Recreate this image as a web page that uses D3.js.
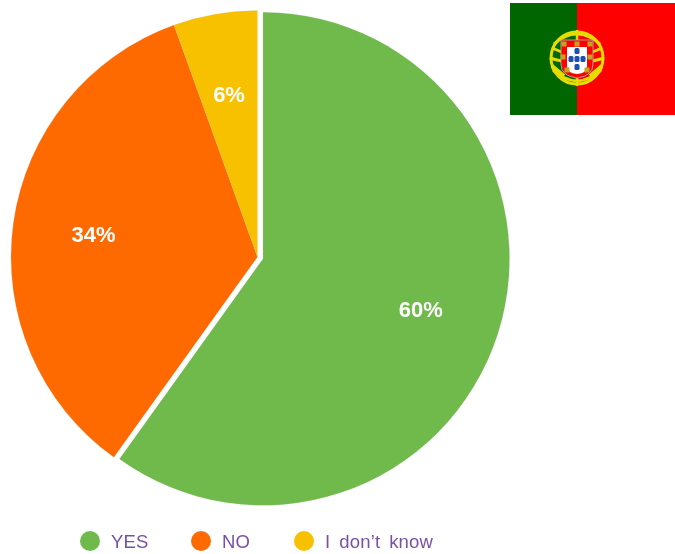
<!DOCTYPE html>
<html>
<head>
<meta charset="utf-8">
<script src="https://cdn.jsdelivr.net/npm/d3@7/dist/d3.min.js"></script>
<style>
  html, body { margin: 0; padding: 0; background: #fff; }
  svg { display: block; }
  text { font-family: "Liberation Sans", Arial, sans-serif; }
</style>
</head>
<body>
<svg id="chart" width="675" height="554"></svg>
<script>
const categories = ["YES", "NO", "I don’t know"];
const values = [59.9, 34.6, 5.5];
const labels = ["60%", "34%", "6%"];
const colors = ["#6fba4a", "#ff6a00", "#f7c100"];

const legendX = [90, 201, 304];

const width = 675, height = 554;
const cx = 257.5, cy = 257, radius = 246.5;
const explode = 5.8; // the green slice sits a bit out of the pie

const svg = d3.select("#chart");

const defs = svg.append("defs");
defs.append("filter").attr("id", "soft")
  .append("feGaussianBlur").attr("stdDeviation", 0.5);
defs.append("filter").attr("id", "softer")
  .append("feGaussianBlur").attr("stdDeviation", 0.4);

//###################### PIE ######################

const pie = d3.pie().sort(null).value(d => d);
const arc = d3.arc().innerRadius(0).outerRadius(radius);
const labelArc = d3.arc().innerRadius(radius * 0.672).outerRadius(radius * 0.672);

const arcs = pie(values);

const slices = svg.append("g").attr("transform", `translate(${cx},${cy})`);

slices.selectAll("path")
  .data(arcs)
  .join("path")
  .attr("d", arc)
  .attr("fill", (d, i) => colors[i])
  .attr("stroke", "#bdbdbd")
  .attr("stroke-opacity", 0.25)
  .attr("stroke-width", 0.6)
  .attr("transform", (d, i) => {
    if (i !== 0) return null;
    const mid = (d.startAngle + d.endAngle) / 2;
    return `translate(${Math.sin(mid) * explode},${-Math.cos(mid) * explode})`;
  });

slices.selectAll("text")
  .data(arcs)
  .join("text")
  .attr("transform", (d, i) => {
    const c = labelArc.centroid(d);
    const off = i === 0 ? explode : 0;
    const mid = (d.startAngle + d.endAngle) / 2;
    return `translate(${c[0] + Math.sin(mid) * off},${c[1] - Math.cos(mid) * off})`;
  })
  .attr("text-anchor", "middle")
  .attr("dy", "0.36em")
  .attr("fill", "#fff")
  .attr("font-size", 22)
  .attr("font-weight", "bold")
  .attr("filter", "url(#softer)")
  .text((d, i) => labels[i]);

//###################### LEGEND ######################

const legend = svg.append("g").selectAll("g")
  .data(categories)
  .join("g")
  .attr("transform", (d, i) => `translate(${legendX[i]},541)`);

legend.append("circle")
  .attr("r", 10)
  .attr("fill", (d, i) => colors[i]);

legend.append("text")
  .attr("x", 21)
  .attr("dy", "0.36em")
  .attr("fill", "#7a50a8")
  .attr("font-size", 18.5)
  .attr("letter-spacing", 0.2)
  .attr("word-spacing", 3.5)
  .attr("filter", "url(#soft)")
  .text(d => d);

//###################### FLAG ######################

const flag = svg.append("g").attr("transform", "translate(510,3)");
flag.append("rect").attr("width", 67).attr("height", 112).attr("fill", "#006600");
flag.append("rect").attr("x", 67).attr("width", 98).attr("height", 112).attr("fill", "#ff0000");

const emblem = flag.append("g").attr("transform", "translate(67,55)").attr("filter", "url(#softer)");
const gold = "#e6dc00";

// armillary sphere
emblem.append("circle").attr("r", 26).attr("fill", "none").attr("stroke", gold).attr("stroke-width", 3);
emblem.append("path").attr("d", "M-25,-10 Q-16,-6 -12,-5 M25,-10 Q16,-6 12,-5 M-27,0 Q-18,3 -12,3 M27,0 Q18,3 12,3 M-24,12 Q-14,22 0,23 Q14,22 24,12 M-23,-14 Q-12,-24 0,-24 Q12,-24 23,-14")
  .attr("fill", "none").attr("stroke", gold).attr("stroke-width", 3);
emblem.append("path").attr("d", "M-25,8 L-13,18 M25,8 L13,18").attr("stroke", gold).attr("stroke-width", 4);
emblem.append("path").attr("d", "M0,-28 V-18 M0,20 V28").attr("stroke", gold).attr("stroke-width", 2.5);

// shield
const shield = "M-16,-18 H16 V6 Q16,18 0,20 Q-16,18 -16,6 Z";
emblem.append("path").attr("d", shield).attr("fill", "#ff0000").attr("stroke", "#b0a0a0").attr("stroke-width", 1);
emblem.append("path").attr("d", "M-10,-11 H10 V8 Q10,15 0,16 Q-10,15 -10,8 Z").attr("fill", "#ffffff");

const blues = [[0, -7], [-6, 1], [0, 1], [6, 1], [0, 9]];
emblem.selectAll("rect.q").data(blues).join("rect").attr("class", "q")
  .attr("x", d => d[0] - 2.5).attr("y", d => d[1] - 3)
  .attr("width", 5).attr("height", 6).attr("rx", 1.5).attr("fill", "#1c4fb0");

const castles = [[-13, -14], [0, -14], [13, -14], [-14, -1], [13, -1], [-10, 12], [10, 12]];
emblem.selectAll("rect.c").data(castles).join("rect").attr("class", "c")
  .attr("x", d => d[0] - 2.5).attr("y", d => d[1] - 2.5)
  .attr("width", 5).attr("height", 5).attr("fill", "#c9a020");
</script>
</body>
</html>
